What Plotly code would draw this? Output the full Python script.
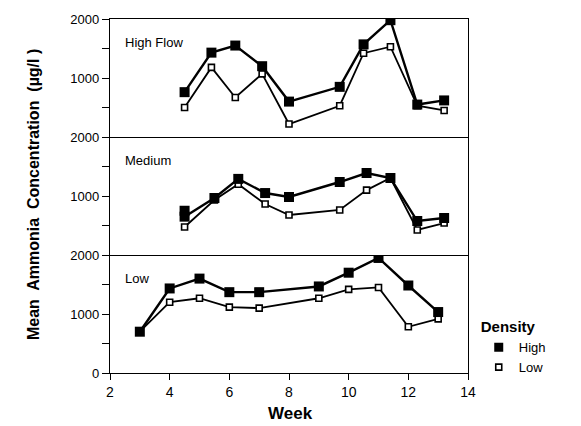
import plotly.graph_objects as go
from plotly.subplots import make_subplots

# High Flow panel
hf_high_week = [4.5, 5.4, 6.2, 7.1, 8.0, 9.7, 10.5, 11.4, 12.3, 13.2]
hf_high_val = [760, 1430, 1550, 1200, 600, 850, 1570, 1980, 550, 620]
hf_low_week = [4.5, 5.4, 6.2, 7.1, 8.0, 9.7, 10.5, 11.4, 12.3, 13.2]
hf_low_val = [500, 1180, 670, 1070, 220, 530, 1420, 1530, 530, 450]

# Medium panel
md_high_week = [4.5, 4.5, 5.5, 6.3, 7.2, 8.0, 9.7, 10.6, 11.4, 12.3, 13.2]
md_high_val = [750, 650, 966, 1290, 1050, 983, 1237, 1390, 1305, 576, 627]
md_low_week = [4.5, 5.5, 6.3, 7.2, 8.0, 9.7, 10.6, 11.4, 12.3, 13.2]
md_low_val = [475, 932, 1200, 864, 678, 763, 1100, 1305, 424, 542]

# Low flow panel
lo_high_week = [3, 4, 5, 6, 7, 9, 10, 11, 12, 13]
lo_high_val = [700, 1433, 1600, 1370, 1370, 1467, 1700, 1950, 1483, 1033]
lo_low_week = [3, 4, 5, 6, 7, 9, 10, 11, 12, 13]
lo_low_val = [700, 1200, 1267, 1117, 1100, 1267, 1417, 1450, 783, 917]

panel_labels = ["High Flow", "Medium", "Low"]
x_ticks = [2, 4, 6, 8, 10, 12, 14]
y_ticks = [0, 500, 1000, 1500, 2000]

FONT = "Liberation Sans, Arial, sans-serif"

fig = make_subplots(rows=3, cols=1, shared_xaxes=True, vertical_spacing=0)

panels = [
    (hf_high_week, hf_high_val, hf_low_week, hf_low_val),
    (md_high_week, md_high_val, md_low_week, md_low_val),
    (lo_high_week, lo_high_val, lo_low_week, lo_low_val),
]

high_marker = dict(symbol="square", size=10, color="black")
low_marker = dict(symbol="square", size=6, color="white",
                  line=dict(color="black", width=1.6))

for i, (hw, hv, lw, lv) in enumerate(panels):
    row = i + 1
    fig.add_trace(go.Scatter(
        x=lw, y=lv, mode="lines+markers", name="Low",
        line=dict(color="black", width=1.8), marker=low_marker,
        showlegend=False,
    ), row=row, col=1)
    fig.add_trace(go.Scatter(
        x=hw, y=hv, mode="lines+markers", name="High",
        line=dict(color="black", width=2.4), marker=high_marker,
        showlegend=False,
    ), row=row, col=1)

# legend-only entries (markers only, like the reference)
fig.add_trace(go.Scatter(x=[None], y=[None], mode="markers", name="High",
                         marker=dict(symbol="square", size=9, color="black"),
                         legendrank=1), row=3, col=1)
fig.add_trace(go.Scatter(x=[None], y=[None], mode="markers", name="Low",
                         marker=dict(symbol="square", size=6, color="white",
                                     line=dict(color="black", width=1.6)),
                         legendrank=2), row=3, col=1)

for i in range(3):
    row = i + 1
    ticktext = ["0" if (row == 3) else "", "", "1000", "", "2000"]
    fig.update_yaxes(
        range=[0, 2000], tickvals=y_ticks, ticktext=ticktext,
        ticks="outside", ticklen=7, tickwidth=1.3, tickcolor="black",
        showline=True, linecolor="black", linewidth=1.3, mirror=True,
        showgrid=False, zeroline=False,
        tickfont=dict(family=FONT, size=13, color="black"),
        row=row, col=1,
    )
    fig.update_xaxes(
        range=[2, 14], tickvals=x_ticks,
        ticks="outside" if row == 3 else "", ticklen=6, tickwidth=1.3, tickcolor="black",
        showline=True, linecolor="black", linewidth=1.3, mirror=(row == 1),
        showgrid=False, zeroline=False,
        showticklabels=(row == 3),
        tickfont=dict(family=FONT, size=14, color="black"),
        row=row, col=1,
    )
    fig.add_annotation(
        text=panel_labels[i], xref=f"x{'' if row == 1 else row} domain",
        yref=f"y{'' if row == 1 else row} domain",
        x=0.035, y=0.8, xanchor="left", yanchor="middle", showarrow=False,
        font=dict(family=FONT, size=13, color="black"),
    )

fig.add_annotation(
    text="Mean  Ammonia  Concentration  (µg/l )", xref="paper", yref="paper",
    x=-0.245, y=0.505, textangle=-90, showarrow=False,
    font=dict(family=FONT, size=16, color="black", weight="bold"),
)
fig.add_annotation(
    text="Week", xref="paper", yref="paper",
    x=0.503, y=-0.115, showarrow=False, yanchor="middle",
    font=dict(family=FONT, size=17, color="black", weight="bold"),
)

fig.update_layout(
    width=581, height=426,
    margin=dict(l=110, r=113, t=15, b=53),
    paper_bgcolor="white", plot_bgcolor="white",
    showlegend=True,
    legend=dict(
        title=dict(text="<b>Density</b>", font=dict(family=FONT, size=15, color="black")),
        x=1.03, y=0.17, xanchor="left", yanchor="top",
        font=dict(family=FONT, size=13, color="black"),
        bgcolor="rgba(0,0,0,0)", itemwidth=30, tracegroupgap=0,
    ),
)

fig.write_html("out.html")
